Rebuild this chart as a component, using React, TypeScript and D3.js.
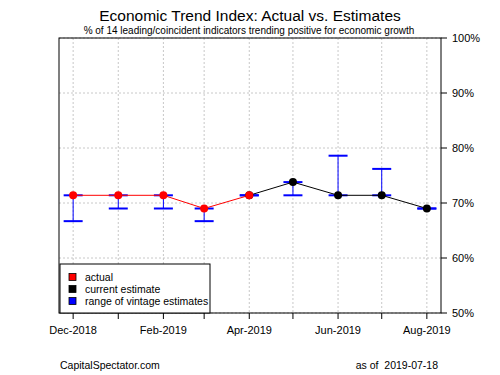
import React from "react";
import * as d3 from "d3";

const months = ["2018-12", "2019-01", "2019-02", "2019-03", "2019-04", "2019-05", "2019-06", "2019-07", "2019-08"];
const actual: (number | null)[] = [71.4, 71.4, 71.4, 69.0, 71.4, null, null, null, null];
const currentEstimate: (number | null)[] = [null, null, null, null, 71.4, 73.8, 71.4, 71.4, 69.0];
const rangeLow = [66.7, 69.0, 69.0, 66.7, 71.4, 71.4, 71.4, 71.4, 69.0];
const rangeHigh = [71.4, 71.4, 71.4, 69.0, 71.4, 73.8, 78.6, 76.2, 69.0];
const yTicks = [50, 60, 70, 80, 90, 100];
const labeledMonths = ["2018-12", "2019-02", "2019-04", "2019-06", "2019-08"];
const legendItems = [
  { label: "actual", color: "#ff0000" },
  { label: "current estimate", color: "#000000" },
  { label: "range of vintage estimates", color: "#0000ff" },
];
const title = "Economic Trend Index: Actual vs. Estimates";
const subtitle = "% of 14 leading/coincident indicators trending positive for economic growth";
const source = "CapitalSpectator.com";
const asOf = "as of  2019-07-18";

const W = 500, H = 375;
const L = 59, R = 441, T = 38, B = 313;
const font = "'Liberation Sans', Arial, sans-serif";

const parse = d3.timeParse("%Y-%m");
const fmt = d3.timeFormat("%b-%Y");

export default function App() {
  const dates = months.map((m) => parse(m) as Date);
  const d0 = dates[0].getTime(), d1 = dates[dates.length - 1].getTime();
  const pad = (d1 - d0) * 0.04;
  const x = d3.scaleTime().domain([new Date(d0 - pad), new Date(d1 + pad)]).range([L, R]);
  const y = d3.scaleLinear().domain([50, 100]).range([B, T]);

  const lineGen = d3
    .line<[Date, number | null]>()
    .defined((d) => d[1] != null)
    .x((d) => x(d[0]))
    .y((d) => y(d[1] as number));

  const actualPts = dates.map((d, i) => [d, actual[i]] as [Date, number | null]);
  const estPts = dates.map((d, i) => [d, currentEstimate[i]] as [Date, number | null]);
  const capW = 9.5;

  return (
    <svg width={W} height={H} style={{ position: "absolute", left: 0, top: 0, background: "#fff" }} fontFamily={font}>
      <rect x={0} y={0} width={W} height={H} fill="#fff" />
      {/* grid */}
      {dates.map((d, i) => (
        <line key={"gx" + i} x1={x(d)} x2={x(d)} y1={T} y2={B} stroke="#c8c8c8" strokeDasharray="2,2" strokeWidth={1} />
      ))}
      {yTicks.map((t) => (
        <line key={"gy" + t} x1={L} x2={R} y1={y(t)} y2={y(t)} stroke="#c8c8c8" strokeDasharray="2,2" strokeWidth={1} />
      ))}
      {/* error bars */}
      {dates.map((d, i) => (
        <g key={"eb" + i} stroke="#0000ff">
          <line x1={x(d)} x2={x(d)} y1={y(rangeLow[i])} y2={y(rangeHigh[i])} strokeWidth={1} />
          <line x1={x(d) - capW} x2={x(d) + capW} y1={y(rangeLow[i])} y2={y(rangeLow[i])} strokeWidth={2} />
          <line x1={x(d) - capW} x2={x(d) + capW} y1={y(rangeHigh[i])} y2={y(rangeHigh[i])} strokeWidth={2} />
        </g>
      ))}
      {/* lines */}
      <path d={lineGen(estPts) || ""} fill="none" stroke="#000" strokeWidth={1} />
      <path d={lineGen(actualPts) || ""} fill="none" stroke="#ff0000" strokeWidth={1} />
      {estPts.filter((p) => p[1] != null).map((p, i) => (
        <circle key={"ec" + i} cx={x(p[0])} cy={y(p[1] as number)} r={4} fill="#000" />
      ))}
      {actualPts.filter((p) => p[1] != null).map((p, i) => (
        <circle key={"ac" + i} cx={x(p[0])} cy={y(p[1] as number)} r={4} fill="#ff0000" />
      ))}
      {/* box */}
      <rect x={L} y={T} width={R - L} height={B - T} fill="none" stroke="#000" strokeWidth={1} />
      {/* x axis */}
      {dates.map((d, i) => (
        <g key={"xt" + i}>
          <line x1={x(d)} x2={x(d)} y1={B} y2={B + 6} stroke="#000" />
          {labeledMonths.includes(months[i]) && (
            <text x={x(d)} y={B + 21} textAnchor="middle" fontSize={11} fill="#000">
              {fmt(d)}
            </text>
          )}
        </g>
      ))}
      {/* right axis */}
      {yTicks.map((t) => (
        <g key={"yt" + t}>
          <line x1={R} x2={R + 6} y1={y(t)} y2={y(t)} stroke="#000" />
          <text x={R + 11} y={y(t)} dy="0.35em" fontSize={11} fill="#000">
            {t + "%"}
          </text>
        </g>
      ))}
      {/* legend */}
      <rect x={60} y={264} width={150} height={B - 264} fill="#fff" stroke="#000" strokeWidth={1} />
      {legendItems.map((it, i) => (
        <g key={"lg" + i}>
          <rect x={69} y={273.5 + i * 12} width={7} height={7} fill={it.color} stroke="#000" strokeWidth={0.8} />
          <text x={85} y={277 + i * 12} dy="0.35em" fontSize={10.5} fill="#000">
            {it.label}
          </text>
        </g>
      ))}
      {/* titles */}
      <text x={250} y={21} textAnchor="middle" fontSize={15.5} fill="#000">
        {title}
      </text>
      <text x={249} y={34} textAnchor="middle" fontSize={10} fill="#000">
        {subtitle}
      </text>
      <text x={60} y={369} fontSize={10.5} fill="#000">
        {source}
      </text>
      <text x={438} y={369} textAnchor="end" fontSize={10.5} fill="#000" style={{ whiteSpace: "pre" }}>
        {asOf}
      </text>
    </svg>
  );
}
